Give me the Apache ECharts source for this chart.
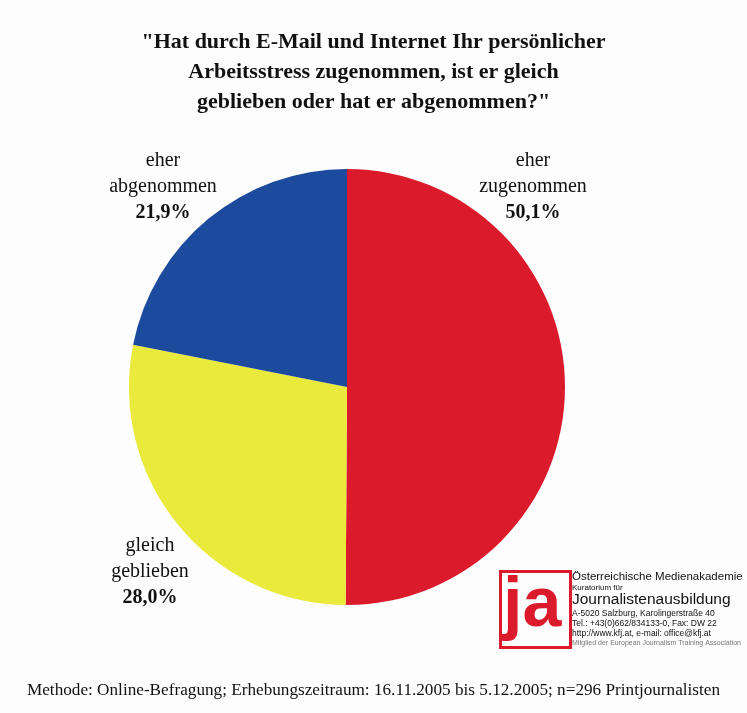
<!DOCTYPE html>
<html><head><meta charset="utf-8">
<script src="https://cdn.jsdelivr.net/npm/echarts@6/dist/echarts.min.js"></script>
<style>html,body{margin:0;padding:0;background:#fdfdfd}#c{width:747px;height:713px}</style>
</head><body><div id="c"></div>
<script>
const titleLines = ['"Hat durch E-Mail und Internet Ihr persönlicher', 'Arbeitsstress zugenommen, ist er gleich', 'geblieben oder hat er abgenommen?"'];
const categories = ['eher zugenommen', 'gleich geblieben', 'eher abgenommen'];
const labelLines = [['eher', 'zugenommen'], ['gleich', 'geblieben'], ['eher', 'abgenommen']];
const values = [50.1, 28.0, 21.9];
const colors = ['#db1b2b', '#e9ea3b', '#1c4b9d'];
const footer = 'Methode: Online-Befragung; Erhebungszeitraum: 16.11.2005 bis 5.12.2005; n=296 Printjournalisten';
const logoLines = ['Österreichische Medienakademie', 'Kuratorium für', 'Journalistenausbildung', 'A-5020 Salzburg, Karolingerstraße 40', 'Tel.: +43(0)662/834133-0, Fax: DW 22', 'http://www.kfj.at, e-mail: office@kfj.at', 'Mitglied der European Journalism Training Association'];

const labelPos = [[533, 148], [150, 533], [163, 148]];
const fmt = v => v.toFixed(1).replace('.', ',') + '%';

const chart = echarts.init(document.getElementById('c'));
chart.setOption({
  backgroundColor: '#fdfdfd',
  animation: false,
  title: {
    text: titleLines.join('\n'), left: 'center', top: 22,
    textStyle: {fontFamily: 'Liberation Serif', fontWeight: 'bold', fontSize: 22, lineHeight: 30, color: '#111'}
  },
  series: [{
    type: 'pie', radius: 218, center: [347, 387], startAngle: 90, clockwise: true,
    data: categories.map((c, i) => ({name: c, value: values[i], itemStyle: {color: colors[i]}})),
    labelLine: {show: false},
    emphasis: {disabled: true},
    label: {
      show: true, position: 'outside',
      formatter: p => labelLines[p.dataIndex].join('\n') + '\n{b|' + fmt(p.value) + '}',
      fontFamily: 'Liberation Serif', fontSize: 20, lineHeight: 26, color: '#111', align: 'center',
      rich: {b: {fontFamily: 'Liberation Serif', fontSize: 20, fontWeight: 'bold', lineHeight: 26, color: '#111'}}
    },
    labelLayout: p => ({x: labelPos[p.dataIndex][0], y: labelPos[p.dataIndex][1], align: 'center', verticalAlign: 'top'})
  }],
  graphic: [
    {type: 'rect', left: 498, top: 569, shape: {width: 70, height: 76}, style: {fill: 'none', stroke: '#db1b2b', lineWidth: 3}},
    {type: 'text', left: 503, top: 572, style: {text: 'ja', fill: '#db1b2b', font: 'bold 70px Liberation Sans'}},
    {type: 'text', left: 572, top: 571, style: {text: logoLines[0], fill: '#111', font: '11.5px Liberation Sans'}},
    {type: 'text', left: 572, top: 584, style: {text: logoLines[1], fill: '#111', font: '8px Liberation Sans'}},
    {type: 'text', left: 572, top: 592, style: {text: logoLines[2], fill: '#111', font: '15.5px Liberation Sans'}},
    {type: 'text', left: 572, top: 609, style: {text: logoLines[3], fill: '#111', font: '8.5px Liberation Sans'}},
    {type: 'text', left: 572, top: 619, style: {text: logoLines[4], fill: '#111', font: '8.5px Liberation Sans'}},
    {type: 'text', left: 572, top: 629, style: {text: logoLines[5], fill: '#111', font: '8.5px Liberation Sans'}},
    {type: 'text', left: 572, top: 640, style: {text: logoLines[6], fill: '#777', font: '7px Liberation Sans'}},
    {type: 'text', left: 'center', top: 682, style: {text: footer, fill: '#111', font: '17.2px Liberation Serif'}}
  ]
});
</script></body></html>
